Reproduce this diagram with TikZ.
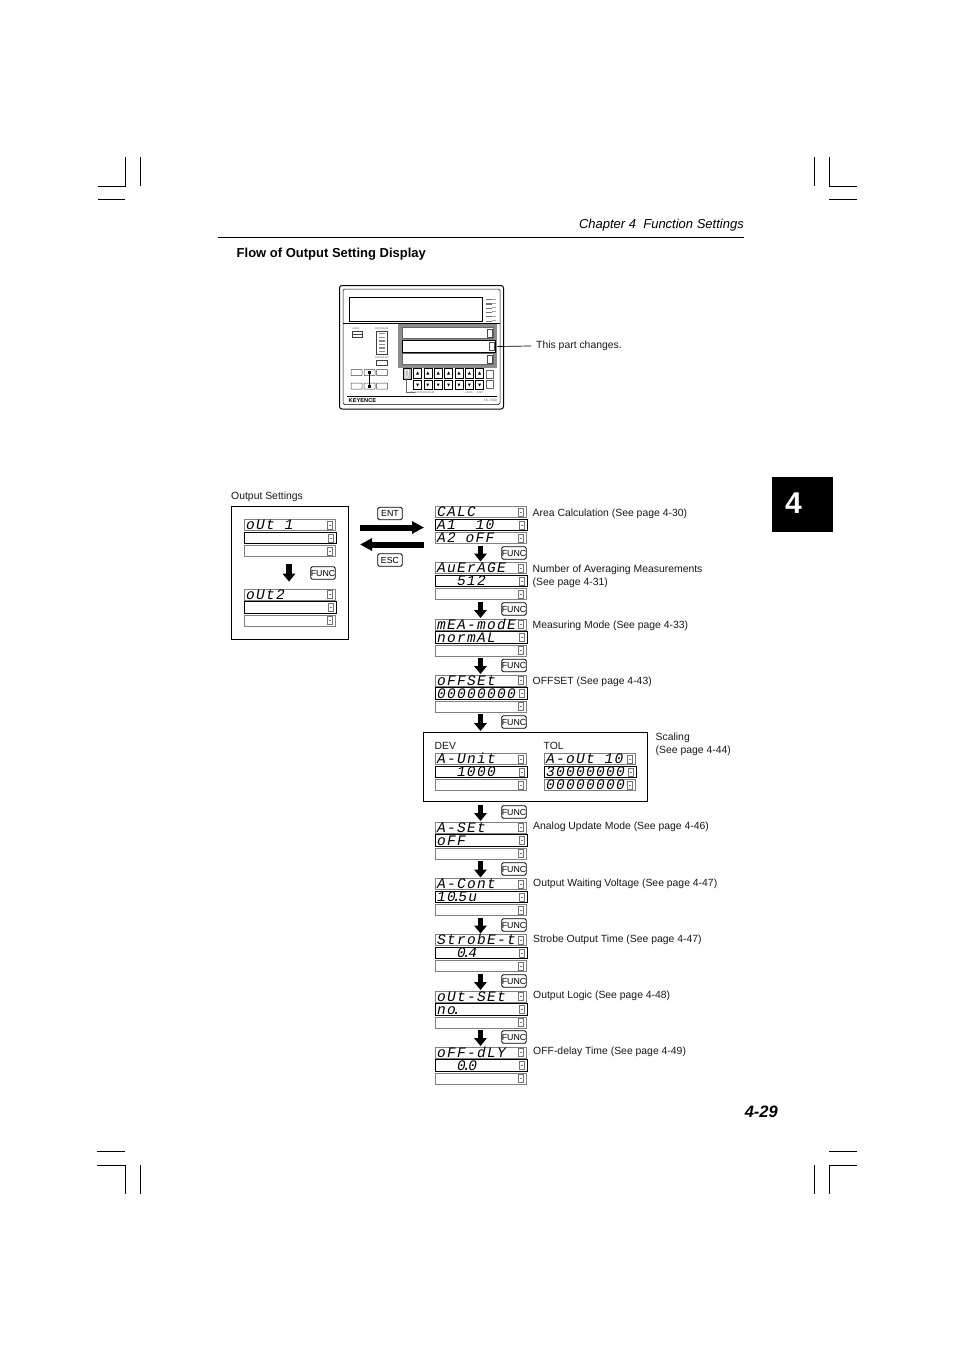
\documentclass[tikz,border=0pt]{standalone}
\usepackage{fontspec}
\setmainfont{Liberation Sans}
\newfontfamily\dspfont{Liberation Mono}[LetterSpace=9]
\usetikzlibrary{arrows.meta,calc}
\newcommand{\dsptxt}{\dspfont\itshape\fontsize{14.5}{14.5}\selectfont}
\newcommand{\dd}{\rlap{\kern-3.4pt.}\kern2.6pt\relax}
\newcommand{\sk}{\kern10pt\relax}
\tikzset{
  x=1pt,y=-1pt,
  lbl/.style={font=\fontsize{10.4}{12.5}\selectfont,anchor=west,inner sep=0pt,align=left,text=black!90},
  rowgray/.style={draw=black!50,line width=.6pt,fill=white,anchor=north west,inner sep=0pt,outer sep=0pt,minimum height=11.2pt,text height=10.4pt,text depth=.8pt,align=left,font=\dsptxt},
  rowblack/.style={rowgray,draw=black,line width=1pt},
  dbtn/.style={draw=black!55,line width=.5pt,fill=white,inner sep=0pt,minimum width=5.5pt,minimum height=8pt},
  keycap/.style={draw=black,line width=.8pt,rounded corners=1.5pt,fill=white,inner sep=0pt,minimum width=24.5pt,minimum height=12.5pt,font=\fontsize{8.8}{10}\selectfont},
  flow/.style={line width=5.5pt,-{Triangle[length=8pt,width=12.5pt]},shorten >=1pt,shorten <=2pt},
  bigflow/.style={line width=6pt,-{Triangle[length=12pt,width=12pt]}},
  crop/.style={line width=.6pt,black},
  devline/.style={draw=black!75,line width=.5pt,fill=white},
  tiny/.style={font=\fontsize{2.6}{3}\selectfont,text=black!60,inner sep=0pt},
}
% #1 name, #2 x, #3 y top, #4 width, #5 top, #6 middle, #7 bottom
\newcommand{\dispunit}[7]{%
  \node[rowgray,minimum width=#4pt,text width=#4pt-2pt] (#1-t) at (#2,#3) {\hspace*{1pt}#5};
  \node[rowblack,minimum width=#4pt+1pt,text width=#4pt-1pt] (#1-m) at (#2,#3+12.9) {\hspace*{1pt}#6};
  \node[rowgray,minimum width=#4pt,text width=#4pt-2pt] (#1-b) at (#2,#3+25.9) {\hspace*{1pt}#7};
  \foreach \r in {t,m,b}{
    \node[dbtn,anchor=east] (#1-\r-btn) at ($(#1-\r.east)+(-2.2,0)$) {};
    \fill[black!55] ($(#1-\r-btn.center)+(-1.2,-.3)$) rectangle ($(#1-\r-btn.center)+(1.2,.3)$);
  }%
}
\begin{document}
\begin{tikzpicture}
\useasboundingbox[fill=white] (0,0) rectangle (954,1351);
% crop marks
\draw[crop] (98,186)--(125,186)--(125,157) (98,199)--(125,199) (140,157)--(140,186);
\draw[crop] (857,186)--(829,186)--(829,157) (857,199)--(829,199) (814,157)--(814,186);
\draw[crop] (97,1151)--(125,1151) (97,1165)--(125,1165)--(125,1194) (140,1165)--(140,1194);
\draw[crop] (857,1151)--(829,1151) (857,1165)--(829,1165)--(829,1194) (814,1165)--(814,1194);
% header
\node[font=\fontsize{13}{15}\selectfont\itshape,anchor=east,inner sep=0pt] (chapter) at (744,225) {Chapter 4\ \ Function Settings};
\draw[line width=.7pt] (218,237)--(744,237);
\node[font=\fontsize{13}{15}\selectfont\bfseries,anchor=west,inner sep=0pt] (flowtitle) at (236.5,254.5) {Flow of Output Setting Display};
% tab + page number
\node[fill=black,minimum width=61pt,minimum height=55pt,anchor=north west,inner sep=0pt] (tab) at (772,477) {};
\node[text=white,font=\fontsize{30}{32}\selectfont\bfseries,inner sep=0pt] (tabnum) at (793.5,503) {4};
\node[font=\fontsize{16.5}{18}\selectfont\bfseries\itshape,anchor=east,inner sep=0pt] (pageno) at (778,1111.5) {4-29};
% ---------- device ----------
\draw[line width=1pt,rounded corners=2.5pt,fill=white] (339.5,285.5) rectangle (503.5,409);
\draw[line width=.5pt,rounded corners=1.5pt] (343,289) rectangle (500,404.5);
\draw[line width=.6pt] (349,297.5) rectangle (482,321.5);
\draw[line width=.5pt] (343,323.5)--(500,323.5);
\foreach \i in {0,...,5}{\fill[black!55] (486,{299+4.3*\i}) rectangle (491.5,{300.2+4.3*\i});
  \fill[black!35] (492,{298.5+4.3*\i}) rectangle (496,{299.3+4.3*\i});}
\node[fill=black!45,minimum width=99pt,minimum height=43.5pt,anchor=north west,inner sep=0pt] (panel) at (398,324) {};
\node[draw=black!60,fill=white,line width=.4pt,minimum width=91pt,minimum height=11pt,anchor=north west,inner sep=0pt] (row1) at (402,327.3) {};
\node[draw=black,fill=white,line width=1pt,minimum width=92.5pt,minimum height=12pt,anchor=north west,inner sep=0pt] (row2) at (402,340) {};
\node[draw=black!60,fill=white,line width=.4pt,minimum width=91pt,minimum height=11pt,anchor=north west,inner sep=0pt] (row3) at (402,353.3) {};
\foreach \r in {row1,row2,row3}{\node[draw=black!70,fill=white,line width=.4pt,minimum width=5.5pt,minimum height=8pt,inner sep=0pt,anchor=east] at ($(\r.east)+(-1,0)$) {};}
% left controls
\draw[devline] (352,331.5) rectangle (362,337.5); \draw[black!75,line width=.5pt] (352,334.5)--(362,334.5);
\node[tiny] (area) at (356,328.5) {AREA};
\node[tiny] (prog) at (381.5,328.5) {PROGRAM};
\draw[devline] (376.5,331.5) rectangle (387.5,354);
\foreach \i in {0,...,5}{\fill[black!45] (379,{333+3.6*\i}) rectangle (385,{334.4+3.6*\i});}
\node[tiny] (prog2) at (381.5,357.5) {PROGRAM};
\draw[devline] (376.5,360) rectangle (387.5,365);
\foreach \xx/\yy in {351/369.5,364/369.5,376.5/369.5,351/383,364/383,376.5/383}{
  \draw[devline,rounded corners=.5pt] (\xx,\yy) rectangle ++(11,6);}
\draw[black,line width=.8pt] (369.5,372.5)--(369.5,386);
\fill[black] (368,371) rectangle (371,374); \fill[black] (368,385) rectangle (371,388);
\draw[line width=1pt,fill=black!25] (403,368.5) rectangle (411,379);
\draw[white,line width=.7pt] (405.5,370)--(408.5,370)--(408,377)--(405,377)--cycle;
\draw[black!60,line width=.4pt] (406.5,379)--(406.5,392)--(415,392);
\node[tiny] (sel) at (422,393) {SELECT/PROGRAM};
\foreach \i in {0,...,6}{
  \pgfmathsetmacro\kx{413.5+10.35*\i}
  \draw[line width=.6pt,fill=white] (\kx,368.5) rectangle ++(8,9.5);
  \draw[line width=.6pt,fill=white] (\kx,380) rectangle ++(8,9.5);
  \fill[black] (\kx+2.5,374.5)--(\kx+5.5,374.5)--(\kx+4,371.5)--cycle;
  \fill[black] (\kx+2.5,383.5)--(\kx+5.5,383.5)--(\kx+4,386.5)--cycle;
}
\draw[black!60,line width=.5pt,fill=white] (486,370) rectangle (493,378.5);
\draw[black!60,line width=.5pt,fill=white] (486,380) rectangle (493,388.5);
\node[tiny] (data) at (469,393) {AREA};
\node[tiny] (disp) at (480,393) {DISP};
\draw[line width=.7pt] (347,396)--(497,396);
\node[font=\fontsize{5.7}{7}\selectfont\bfseries,inner sep=0pt,anchor=west] (logo) at (348.5,400.3) {KEYENCE};
\node[tiny,anchor=east,font=\fontsize{3.4}{4}\selectfont] (model) at (497,400.3) {LK-7000};
\node[lbl] (partlabel) at (536,346) {This part changes.};
\draw[line width=.7pt] (panel.east |- row2.east) -- ($(partlabel.west)+(-5,0)$);
% ---------- output settings ----------
\node[lbl] (outlabel) at (231,497) {Output Settings};
\node[draw=black,line width=.8pt,minimum width=116.5pt,minimum height=133pt,anchor=north west,inner sep=0pt] (outbox) at (231,506) {};
\dispunit{out1}{244}{519.5}{91}{oUt\sk 1}{}{}
\dispunit{out2}{244}{589}{91}{oUt2}{}{}
\draw[flow] (out1-b.south) ++(-0.5,5) coordinate (o1s) (o1s) -- ++(0,21) coordinate (o2n);
\node[keycap] (funco) at (323,573) {FUNC};
% ---------- ENT / ESC ----------
\node[keycap] (ent) at (390,513.5) {ENT};
\node[keycap] (esc) at (390,560) {ESC};
\coordinate (arL1) at (360,527.5); \coordinate (arR1) at (424,527.5);
\coordinate (arL2) at (360,544.5); \coordinate (arR2) at (424,544.5);
\draw[bigflow] (arL1)--(arR1);
\draw[bigflow] (arR2)--(arL2);
% ---------- flow column ----------
\dispunit{calc}{435}{506.5}{91}{CALC}{A1\sk\sk 10}{A2\sk oFF}
\dispunit{aver}{435}{562.5}{91}{AuErAGE}{\sk\sk 512}{}
\dispunit{mode}{435}{619}{91}{mEA-modE}{normAL}{}
\dispunit{offs}{435}{675}{91}{oFFSEt}{00000000}{}
\node[draw=black,line width=1pt,minimum width=223.5pt,minimum height=69pt,anchor=north west,inner sep=0pt] (scale) at (423,732) {};
\node[lbl] (dev) at (434.5,745.5) {DEV};
\node[lbl] (tol) at (543.5,745.5) {TOL};
\dispunit{unit}{435}{753.5}{91}{A-Unit}{\sk\sk 1000}{}
\dispunit{aout}{544}{753.5}{91}{A-oUt\sk 10}{30000000}{00000000}
\dispunit{aset}{435}{822}{91}{A-SEt}{oFF}{}
\dispunit{cont}{435}{878.5}{91}{A-Cont}{10\dd 5u}{}
\dispunit{strb}{435}{934.5}{91}{StrobE-t}{\sk\sk 0\dd 4}{}
\dispunit{oset}{435}{991}{91}{oUt-SEt}{no\dd}{}
\dispunit{dly}{435}{1047}{91}{oFF-dLY}{\sk\sk 0\dd 0}{}
% arrows between displays
\draw[flow] (calc-b.south)--(aver-t.north);
\draw[flow] (aver-b.south)--(mode-t.north);
\draw[flow] (mode-b.south)--(offs-t.north);
\draw[flow] (offs-b.south)--(offs-b.south |- scale.north);
\draw[flow,shorten <=3pt] (aset-t.north |- scale.south)--(aset-t.north);
\draw[flow] (aset-b.south)--(cont-t.north);
\draw[flow] (cont-b.south)--(strb-t.north);
\draw[flow] (strb-b.south)--(oset-t.north);
\draw[flow] (oset-b.south)--(dly-t.north);
% FUNC keys
\foreach \nm/\yy in {a/553,b/609,c/665.5,d/722,e/812,f/869,g/925,h/981,i/1037}{
  \node[keycap] (func\nm) at (514,\yy) {FUNC};}
% labels
\node[lbl] (l1) at (532.5,514) {Area Calculation (See page 4-30)};
\node[lbl] (l2) at (532.5,576.5) {Number of Averaging Measurements\\(See page 4-31)};
\node[lbl] (l3) at (532.5,626) {Measuring Mode (See page 4-33)};
\node[lbl] (l4) at (532.5,682) {OFFSET (See page 4-43)};
\node[lbl] (l5) at (655.5,744.5) {Scaling\\(See page 4-44)};
\node[lbl] (l6) at (533,827) {Analog Update Mode (See page 4-46)};
\node[lbl] (l7) at (533,884) {Output Waiting Voltage (See page 4-47)};
\node[lbl] (l8) at (533,940) {Strobe Output Time (See page 4-47)};
\node[lbl] (l9) at (533,996) {Output Logic (See page 4-48)};
\node[lbl] (l10) at (533,1052) {OFF-delay Time (See page 4-49)};
\end{tikzpicture}
\end{document}
